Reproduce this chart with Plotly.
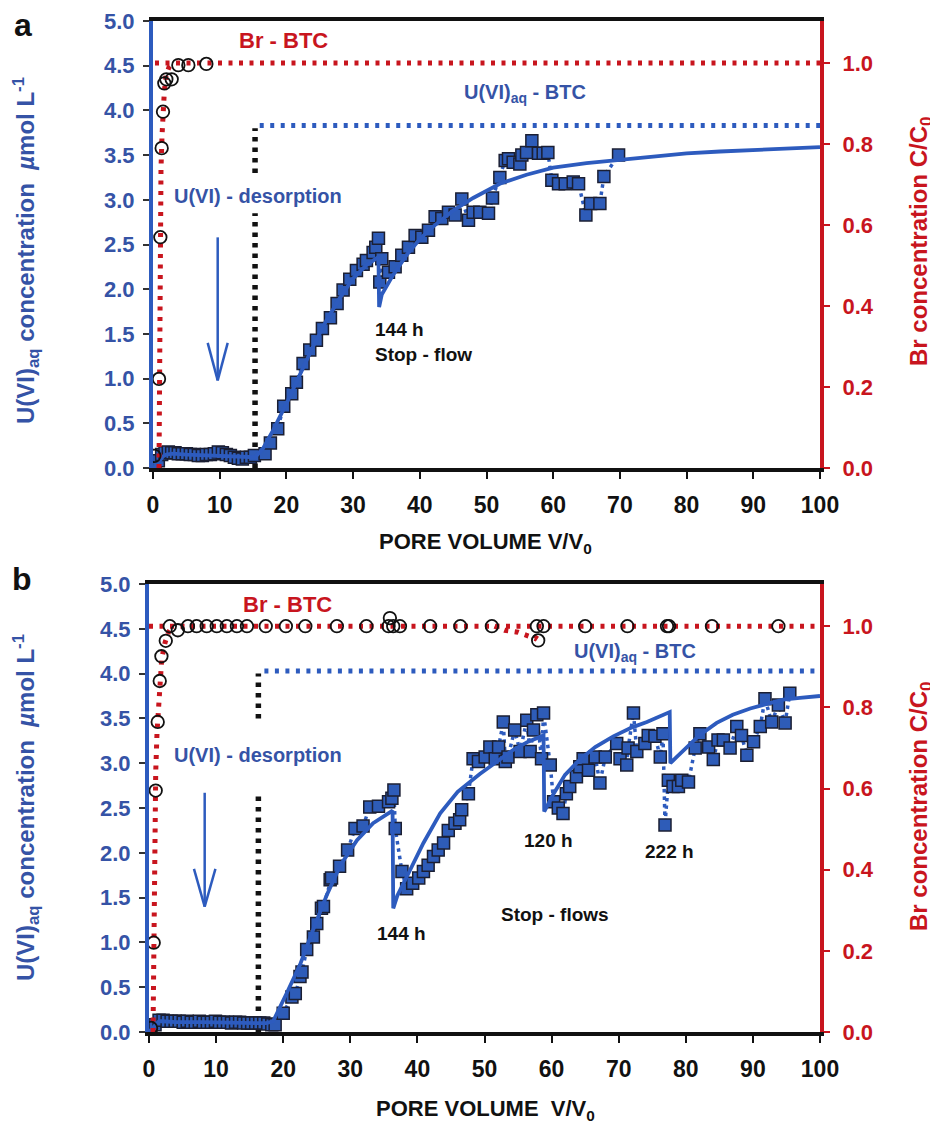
import plotly.graph_objects as go

# ---------------- DATA ----------------
# Panel a: U(VI) data (squares)
a_u_x = [0.3, 0.8, 1.3, 1.8, 2.3, 2.8, 3.3, 3.8, 4.4, 5.0, 5.6, 6.2, 6.8, 7.4, 8.0, 8.6, 9.2, 9.8, 10.4, 11.0,
         11.6, 12.2, 12.8, 13.4, 14.0, 14.6, 15.2,
         16.8, 17.6, 18.7, 19.6, 20.8, 21.5, 22.5, 23.5, 24.5, 25.4, 26.6, 27.6, 28.5, 29.5, 30.5, 31.5, 32.0,
         33.0, 33.4, 33.8, 34.0, 34.3, 35.3, 36.3, 37.3, 38.3, 39.3, 40.3, 41.3, 42.3, 43.3, 44.3, 45.3, 46.3,
         47.3, 48.0, 49.0, 50.3, 50.9, 52.0, 52.8, 53.3, 54.0, 55.0, 55.3, 56.0, 56.8, 57.8, 58.5, 59.2, 59.8,
         60.8, 61.8, 63.0, 63.8, 64.9, 65.6, 67.0, 67.6, 69.8]
a_u_y = [0.02, 0.08, 0.15, 0.17, 0.18, 0.17, 0.17, 0.16, 0.16, 0.16, 0.15, 0.15, 0.14, 0.14, 0.15, 0.15, 0.16, 0.18, 0.17, 0.15,
         0.14, 0.12, 0.11, 0.10, 0.12, 0.12, 0.14,
         0.16, 0.28, 0.44, 0.69, 0.83, 0.96, 1.17, 1.32, 1.43, 1.56, 1.68, 1.84, 1.99, 2.11, 2.21, 2.28, 2.32,
         2.41, 2.47, 2.57, 2.08, 2.34, 2.19, 2.25, 2.38, 2.47, 2.60, 2.58, 2.66, 2.81, 2.79, 2.86, 2.83, 3.01,
         2.77, 2.86, 2.86, 2.85, 3.02, 3.25, 3.44, 3.46, 3.42, 3.40, 3.50, 3.53, 3.66, 3.52, 3.52, 3.53, 3.22,
         3.18, 3.18, 3.20, 3.18, 2.83, 2.96, 2.96, 3.26, 3.50]
# Panel a: U(VI) model (solid line)
a_m_x = [0, 0.5, 1.0, 1.5, 2, 3, 5, 8, 10, 12, 14, 15.3, 16.5, 18, 20, 22, 24, 26, 28, 30, 32, 33.8, 33.9, 34.3,
         35, 36, 38, 40, 42, 45, 48, 52, 56, 60, 65, 70, 75, 80, 85, 90, 95, 100]
a_m_y = [0, 0.02, 0.08, 0.13, 0.15, 0.16, 0.15, 0.14, 0.14, 0.13, 0.12, 0.12, 0.22, 0.42, 0.72, 1.05, 1.36, 1.65,
         1.90, 2.12, 2.27, 2.36, 1.80, 1.94, 2.03, 2.16, 2.38, 2.56, 2.70, 2.88, 3.02, 3.18, 3.28, 3.36, 3.41, 3.45,
         3.49, 3.52, 3.54, 3.56, 3.575, 3.59]
# Panel a: Br data (circles, C/C0) and model
a_br_x = [0.2, 0.9, 1.1, 1.3, 1.5, 1.7, 2.0, 2.8, 3.8, 5.3, 8.0]
a_br_y = [0.03, 0.22, 0.57, 0.79, 0.88, 0.95, 0.96, 0.96, 0.995, 0.995, 0.998]
a_brm_x = [0.9, 0.95, 1.0, 1.05, 1.1, 1.2, 1.35, 1.5, 1.7, 1.95, 2.4, 3.0]
a_brm_y = [0.0, 0.15, 0.35, 0.50, 0.60, 0.74, 0.82, 0.88, 0.93, 0.97, 0.99, 1.0]
a_brref_x = [0.3, 100]
a_brref_y = [1.0, 1.0]
# Panel a: U(VI) input level and flow switch
a_uref_x = [16.0, 100]
a_uref_y = [3.83, 3.83]
a_switch_x = [15.3, 15.3, None, 15.3, 15.3]
a_switch_y = [0.0, 2.85, None, 3.30, 3.80]

# Panel b
b_u_x = [0.3, 0.9, 1.5, 2.1, 2.7, 3.3, 3.9, 4.5, 5.1, 5.7, 6.3, 6.9, 7.5, 8.1, 8.7, 9.3, 9.9, 10.5, 11.1, 11.7,
         12.3, 12.9, 13.5, 14.1, 14.7, 15.3, 15.9, 16.5, 17.1, 17.7, 18.3,
         18.8, 20.0, 21.3, 21.8, 22.5, 22.8, 23.5, 24.5, 25.0, 25.7, 26.0, 27.0, 27.2, 28.4, 29.6, 30.7, 31.9,
         32.9, 34.2, 35.7, 36.2, 36.5, 36.7, 37.7, 38.4, 39.3, 40.2, 40.9, 41.6, 42.4, 43.1, 43.9, 44.6, 45.6,
         46.3, 46.6, 47.6, 48.3, 49.1, 50.1, 50.8, 51.6, 52.1, 52.8, 53.1, 53.5, 54.5, 55.3, 56.3, 56.8, 57.3,
         57.8, 58.5, 58.8, 59.8, 60.3, 61.0, 61.7, 62.2, 62.7, 63.7, 64.2, 64.7, 65.5, 66.5, 67.2, 68.0, 69.7,
         70.2, 71.2, 71.4, 72.2, 72.7, 73.9, 74.4, 75.4, 76.2, 76.6, 76.9, 77.4, 78.1, 78.9, 79.4, 80.4, 81.4,
         82.1, 83.4, 84.1, 84.8, 85.6, 86.6, 87.6, 88.3, 89.1, 90.1, 91.1, 91.8, 92.8, 93.8, 94.8, 95.5]
b_u_y = [0.01, 0.08, 0.13, 0.13, 0.12, 0.12, 0.12, 0.12, 0.11, 0.12, 0.11, 0.11, 0.12, 0.11, 0.11, 0.11, 0.12, 0.11,
         0.11, 0.11, 0.10, 0.11, 0.11, 0.10, 0.10, 0.10, 0.10, 0.10, 0.10, 0.09, 0.08,
         0.08, 0.21, 0.39, 0.43, 0.62, 0.67, 0.92, 1.06, 1.21, 1.38, 1.40, 1.70, 1.72, 1.85, 2.03, 2.27, 2.30,
         2.51, 2.52, 2.57, 2.61, 2.70, 2.27, 1.79, 1.60, 1.66, 1.72, 1.79, 1.86, 1.96, 2.03, 2.11, 2.25, 2.33,
         2.37, 2.48, 2.66, 3.05, 3.02, 3.07, 3.18, 3.05, 3.18, 3.46, 3.02, 3.07, 3.37, 3.13, 3.48, 3.13, 3.37,
         3.54, 3.05, 3.56, 2.98, 2.57, 2.50, 2.44, 2.66, 2.74, 2.85, 2.96, 3.05, 2.92, 3.07, 2.78, 3.07, 3.22,
         3.05, 2.98, 3.17, 3.56, 3.13, 3.22, 3.31, 3.30, 3.07, 3.33, 2.31, 2.81, 2.74, 2.74, 2.81, 2.79, 3.17,
         3.33, 3.18, 3.04, 3.26, 3.26, 3.17, 3.41, 3.31, 3.09, 3.24, 3.41, 3.72, 3.46, 3.65, 3.45, 3.78]
b_m_x = [0, 0.5, 1.0, 1.5, 2, 4, 8, 12, 16, 17.5, 18.5, 20.5, 22.5, 24.5, 26.5, 28.5, 31, 33.4, 35.9, 36.3, 36.4,
         37, 38.4, 40.9, 43.4, 46, 49.3, 52, 54.3, 56.5, 58.8, 58.9, 59.5, 60.3, 62, 64.2, 66.5, 69.2, 72, 74.2,
         77.6, 77.7, 78.5, 80.1, 82, 84.6, 87, 89.6, 92, 94.5, 97, 100]
b_m_y = [0, 0.04, 0.09, 0.12, 0.12, 0.11, 0.11, 0.10, 0.10, 0.10, 0.12, 0.43, 0.75, 1.15, 1.53, 1.86, 2.14, 2.33,
         2.45, 2.47, 1.38, 1.52, 1.73, 2.11, 2.44, 2.68, 2.88, 3.03, 3.15, 3.24, 3.31, 2.46, 2.55, 2.66, 2.87, 3.04,
         3.18, 3.30, 3.40, 3.46, 3.57, 3.00, 3.06, 3.18, 3.31, 3.45, 3.54, 3.61, 3.66, 3.71, 3.73, 3.75]
b_br_x = [0.3, 0.7, 1.0, 1.3, 1.6, 1.85, 2.5, 3.1, 4.3, 5.8, 7.1, 8.6, 10.1, 11.6, 13.1, 14.6, 17.4, 20.4, 23.3,
          28.0, 32.4, 35.7, 35.9, 36.4, 37.4, 41.9, 46.4, 51.1, 57.8, 58.0, 58.8, 65.0, 71.3, 77.2, 77.5, 83.9, 93.8]
b_br_y = [0.01, 0.22, 0.595, 0.764, 0.865, 0.926, 0.964, 1.0, 0.99, 1.0, 1.0, 1.0, 1.0, 1.0, 1.0, 1.0, 1.0, 1.0, 1.0,
          1.0, 1.0, 1.0, 1.02, 1.0, 1.0, 1.0, 1.0, 1.0, 1.0, 0.965, 1.0, 1.0, 1.0, 1.0, 1.0, 1.0, 1.0]
b_brm_x = [0.6, 0.7, 0.8, 0.9, 1.0, 1.2, 1.5, 1.9, 2.4, 2.9, 3.5]
b_brm_y = [0.0, 0.2, 0.4, 0.55, 0.64, 0.74, 0.84, 0.92, 0.96, 0.985, 1.0]
b_brdip_x = [51.5, 53.0, 55.0, 56.5, 57.5, 58.3]
b_brdip_y = [1.0, 0.99, 0.985, 0.975, 0.97, 0.99]
b_brref_x = [0, 100]
b_brref_y = [1.0, 1.0]
b_uref_x = [17.2, 100]
b_uref_y = [4.03, 4.03]
b_switch_x = [16.3, 16.3, None, 16.3, 16.3]
b_switch_y = [0.0, 2.65, None, 3.50, 4.00]

x_ticks = list(range(0, 101, 10))

# ---------------- STYLE ----------------
FONT = "Liberation Sans, Arial, sans-serif"
BLUE_T = "#3553A6"
BLUE_L = "#2D5BBE"
SQ_FILL = "#2E5CB8"
RED = "#C8151E"
BLACK = "#111111"
DOT = "4px,6.5px"

fig = go.Figure()


def add_panel(xa, ya, ya2, u_x, u_y, m_x, m_y, br_x, br_y, brm_x, brm_y, brref_x, brref_y,
              uref_x, uref_y, sw_x, sw_y, dip=None):
    # Br reference line and model (secondary axis)
    fig.add_trace(go.Scatter(x=brref_x, y=brref_y, mode="lines", xaxis=xa, yaxis=ya2,
                             line=dict(color=RED, width=5, dash=DOT), showlegend=False))
    fig.add_trace(go.Scatter(x=brm_x, y=brm_y, mode="lines", xaxis=xa, yaxis=ya2,
                             line=dict(color=RED, width=5, dash=DOT), showlegend=False))
    if dip is not None:
        fig.add_trace(go.Scatter(x=dip[0], y=dip[1], mode="lines", xaxis=xa, yaxis=ya2,
                                 line=dict(color=RED, width=5, dash=DOT), showlegend=False))
    # U(VI) input level
    fig.add_trace(go.Scatter(x=uref_x, y=uref_y, mode="lines", xaxis=xa, yaxis=ya,
                             line=dict(color=BLUE_L, width=5, dash=DOT), showlegend=False))
    # flow switch (black dotted)
    fig.add_trace(go.Scatter(x=sw_x, y=sw_y, mode="lines", xaxis=xa, yaxis=ya, connectgaps=False,
                             line=dict(color=BLACK, width=5.5, dash="4.5px,6px"), showlegend=False))
    # U(VI) data connector + squares
    fig.add_trace(go.Scatter(x=u_x, y=u_y, mode="lines+markers", xaxis=xa, yaxis=ya,
                             line=dict(color=BLUE_L, width=3.5, dash="3.5px,4px"),
                             marker=dict(symbol="square", size=12, color=SQ_FILL,
                                         line=dict(color="#1b1f33", width=1.5)),
                             showlegend=False))
    # U(VI) model
    fig.add_trace(go.Scatter(x=m_x, y=m_y, mode="lines", xaxis=xa, yaxis=ya,
                             line=dict(color=BLUE_L, width=3.8), showlegend=False))
    # Br data circles
    fig.add_trace(go.Scatter(x=br_x, y=br_y, mode="markers", xaxis=xa, yaxis=ya2,
                             marker=dict(symbol="circle-open", size=12.5, color=BLACK,
                                         line=dict(color=BLACK, width=1.8)),
                             showlegend=False))


add_panel("x", "y", "y2", a_u_x, a_u_y, a_m_x, a_m_y, a_br_x, a_br_y, a_brm_x, a_brm_y,
          a_brref_x, a_brref_y, a_uref_x, a_uref_y, a_switch_x, a_switch_y)
add_panel("x2", "y3", "y4", b_u_x, b_u_y, b_m_x, b_m_y, b_br_x, b_br_y, b_brm_x, b_brm_y,
          b_brref_x, b_brref_y, b_uref_x, b_uref_y, b_switch_x, b_switch_y, dip=(b_brdip_x, b_brdip_y))

# the page body adds an 8 px margin; size the figure so it fits the 938x1126 window
OFF = 8
W, H = 938 - OFF, 1126 - OFF


def px_x(p):
    return (p - OFF) / W


def px_y(p):
    return 1 - (p - OFF) / H


tickfont_x = dict(family=FONT, size=23, color=BLACK, weight="bold")
tickfont_l = dict(family=FONT, size=22, color=BLUE_T, weight="bold")
tickfont_r = dict(family=FONT, size=22, color=RED, weight="bold")


def xaxis_cfg(dom, anchor):
    return dict(domain=dom, anchor=anchor, range=[0, 100], tickvals=x_ticks, ticks="outside",
                ticklen=7, tickwidth=2, tickcolor=BLACK, showline=True, linecolor=BLACK, linewidth=4,
                mirror=True, showgrid=False, zeroline=False, tickfont=tickfont_x,
                ticklabelstandoff=6, automargin=False)


def yl_cfg(dom, anchor):
    return dict(domain=dom, anchor=anchor, range=[0, 5], dtick=0.5, tickformat=".1f", ticks="outside",
                ticklen=6, tickwidth=2, tickcolor="#333333", showline=True, linecolor=BLUE_L, linewidth=4,
                showgrid=False, zeroline=False, tickfont=tickfont_l, ticklabelstandoff=4, automargin=False)


def yr_cfg(overlay, anchor):
    return dict(overlaying=overlay, anchor=anchor, side="right", range=[0, 1.104], dtick=0.2,
                tickformat=".1f", ticks="outside", ticklen=6, tickwidth=2, tickcolor=RED, showline=True,
                linecolor=RED, linewidth=4, showgrid=False, zeroline=False, tickfont=tickfont_r,
                ticklabelstandoff=8, automargin=False)


fig.update_layout(
    width=W, height=H, margin=dict(l=0, r=0, t=0, b=0, pad=0, autoexpand=False),
    paper_bgcolor="white", plot_bgcolor="white",
    xaxis=xaxis_cfg([px_x(153), px_x(820)], "y"),
    yaxis=yl_cfg([px_y(468), px_y(21)], "x"),
    yaxis2=yr_cfg("y", "x"),
    xaxis2=xaxis_cfg([px_x(149), px_x(820)], "y3"),
    yaxis3=yl_cfg([px_y(1032), px_y(584)], "x2"),
    yaxis4=yr_cfg("y3", "x2"),
    font=dict(family=FONT),
)

ann = []


def txt(text, x, y, xref, yref, color, size, xanchor="center", angle=0):
    ann.append(dict(text=text, x=x, y=y, xref=xref, yref=yref, showarrow=False, xanchor=xanchor,
                    yanchor="middle", textangle=angle,
                    font=dict(family=FONT, size=size, color=color, weight="bold")))


# panel a annotations
txt("Br - BTC", 19.5, 4.78, "x", "y", RED, 22)
txt("U(VI)<sub>aq</sub> - BTC", 55.8, 4.19, "x", "y", BLUE_T, 20)
txt("U(VI) - desorption", 2.8, 3.04, "x", "y", BLUE_T, 20, xanchor="left")
txt("144 h", 33.0, 1.55, "x", "y", BLACK, 19, xanchor="left")
txt("Stop - flow", 33.0, 1.27, "x", "y", BLACK, 19, xanchor="left")
# panel b annotations
txt("Br - BTC", 20.6, 4.77, "x2", "y3", RED, 22)
txt("U(VI)<sub>aq</sub> - BTC", 72.4, 4.24, "x2", "y3", BLUE_T, 20)
txt("U(VI) - desorption", 3.4, 3.09, "x2", "y3", BLUE_T, 20, xanchor="left")
txt("144 h", 37.6, 1.10, "x2", "y3", BLACK, 19)
txt("Stop - flows", 60.5, 1.31, "x2", "y3", BLACK, 19)
txt("120 h", 59.6, 2.14, "x2", "y3", BLACK, 19)
txt("222 h", 77.5, 2.01, "x2", "y3", BLACK, 19)

# axis titles
left_title = "U(VI)<sub>aq</sub> concentration  <i>µ</i>mol L<sup>-1</sup>"
right_title = "Br concentration C/C<sub>0</sub>"
txt(left_title, px_x(26), px_y(251), "paper", "paper", BLUE_T, 24, angle=-90)
txt(left_title, px_x(26), px_y(808), "paper", "paper", BLUE_T, 24, angle=-90)
txt(right_title, px_x(920), px_y(242), "paper", "paper", RED, 24, angle=-90)
txt(right_title, px_x(920), px_y(807), "paper", "paper", RED, 24, angle=-90)
txt("PORE VOLUME V/V<sub>0</sub>", px_x(485), px_y(543), "paper", "paper", BLACK, 22)
txt("PORE VOLUME  V/V<sub>0</sub>", px_x(485), px_y(1110), "paper", "paper", BLACK, 22)
# panel letters
txt("a", px_x(23), px_y(25), "paper", "paper", BLACK, 32)
txt("b", px_x(22), px_y(579), "paper", "paper", BLACK, 32)

fig.update_layout(annotations=ann)

# arrows (open V heads) drawn as shapes
shapes = []


def arrow(x, y0, y1, xref, yref, hx, hy):
    shapes.append(dict(type="line", x0=x, x1=x, y0=y0, y1=y1, xref=xref, yref=yref,
                       line=dict(color=BLUE_L, width=2.5)))
    shapes.append(dict(type="line", x0=x - hx, x1=x, y0=y1 + hy, y1=y1, xref=xref, yref=yref,
                       line=dict(color=BLUE_L, width=2.5)))
    shapes.append(dict(type="line", x0=x + hx, x1=x, y0=y1 + hy, y1=y1, xref=xref, yref=yref,
                       line=dict(color=BLUE_L, width=2.5)))


arrow(9.7, 2.58, 0.98, "x", "y", 1.5, 0.42)
arrow(8.3, 2.67, 1.40, "x2", "y3", 1.6, 0.42)
fig.update_layout(shapes=shapes)

fig.write_html("out.html")
